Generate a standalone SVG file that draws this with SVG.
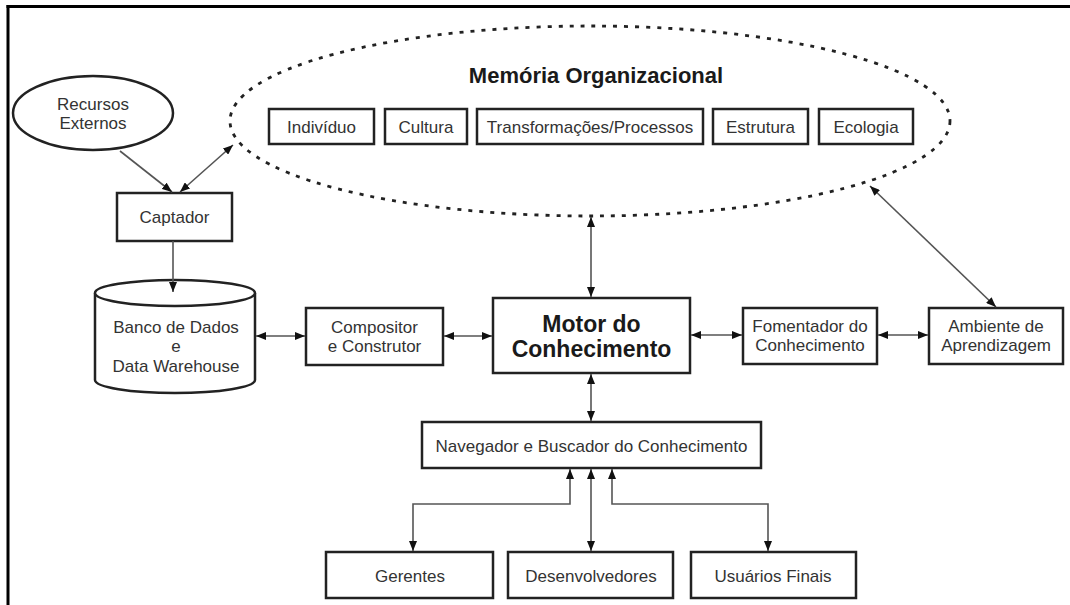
<svg xmlns="http://www.w3.org/2000/svg" width="1070" height="605" viewBox="0 0 1070 605">
<style>
  .box { fill: #fff; stroke: #222; stroke-width: 2.5; }
  .t { font-family: "Liberation Sans", Arial, sans-serif; font-size: 17px; fill: #333; text-anchor: middle; }
  .tb { font-family: "Liberation Sans", Arial, sans-serif; font-weight: bold; fill: #1a1a1a; text-anchor: middle; }
  .c { fill: none; stroke: #555; stroke-width: 1.6; marker-end: url(#ah); }
  .bi { marker-start: url(#ah); }
</style>
<defs>
  <marker id="ah" viewBox="0 0 10 8" refX="10" refY="4" markerWidth="10" markerHeight="8" markerUnits="userSpaceOnUse" orient="auto-start-reverse">
    <path d="M0,0 L10,4 L0,8 z" fill="#111"/>
  </marker>
</defs>
<rect width="1070" height="605" fill="#fff"/>
<g id="frame" stroke="#000" stroke-width="3" fill="none">
  <line x1="6.5" y1="6.5" x2="1070" y2="6.5"/>
  <line x1="8" y1="5" x2="8" y2="605"/>
</g>

<g id="memoria">
  <ellipse cx="590" cy="121" rx="360" ry="95" fill="none" stroke="#222" stroke-width="2.8" stroke-dasharray="4 7"/>
  <text class="tb" x="596" y="83" font-size="22">Memória Organizacional</text>
</g>
<g id="individuo"><rect class="box" x="269" y="109" width="105" height="35"/><text class="t" x="321.5" y="133">Indivíduo</text></g>
<g id="cultura"><rect class="box" x="385" y="109" width="82" height="35"/><text class="t" x="426" y="133">Cultura</text></g>
<g id="transformacoes"><rect class="box" x="477" y="109" width="226" height="35"/><text class="t" x="590" y="133">Transformações/Processos</text></g>
<g id="estrutura"><rect class="box" x="713" y="109" width="95" height="35"/><text class="t" x="760.5" y="133">Estrutura</text></g>
<g id="ecologia"><rect class="box" x="819" y="109" width="94" height="35"/><text class="t" x="866" y="133">Ecologia</text></g>

<g id="recursos">
  <ellipse cx="93" cy="113" rx="80" ry="37" fill="#fff" stroke="#222" stroke-width="2.5"/>
  <text class="t" x="93" y="110">Recursos</text>
  <text class="t" x="93" y="129">Externos</text>
</g>
<g id="captador"><rect class="box" x="117" y="193" width="115" height="48"/><text class="t" x="174.5" y="223">Captador</text></g>
<g id="banco">
  <path d="M95,293 L95,380 A80,13 0 0 0 255,380 L255,293" fill="#fff" stroke="#222" stroke-width="2.5"/>
  <ellipse cx="175" cy="293" rx="80" ry="13" fill="#fff" stroke="#222" stroke-width="2.5"/>
  <text class="t" x="176" y="333">Banco de Dados</text>
  <text class="t" x="176" y="352">e</text>
  <text class="t" x="176" y="372">Data Warehouse</text>
</g>
<g id="compositor"><rect class="box" x="306" y="308" width="137" height="57"/>
  <text class="t" x="374.5" y="333">Compositor</text><text class="t" x="374.5" y="352">e Construtor</text></g>
<g id="motor"><rect class="box" x="493" y="298" width="197" height="75"/>
  <text class="tb" x="591.5" y="332" font-size="23">Motor do</text><text class="tb" x="591.5" y="357" font-size="23">Conhecimento</text></g>
<g id="fomentador"><rect class="box" x="743" y="308" width="134" height="56"/>
  <text class="t" x="810" y="332">Fomentador do</text><text class="t" x="810" y="351">Conhecimento</text></g>
<g id="ambiente"><rect class="box" x="929" y="308" width="134" height="56"/>
  <text class="t" x="996" y="332">Ambiente de</text><text class="t" x="996" y="351">Aprendizagem</text></g>
<g id="navegador"><rect class="box" x="422" y="422" width="339" height="46"/>
  <text class="t" x="591.5" y="452">Navegador e Buscador do Conhecimento</text></g>
<g id="gerentes"><rect class="box" x="326" y="552" width="167" height="46"/><text class="t" x="410" y="582">Gerentes</text></g>
<g id="desenvolvedores"><rect class="box" x="508" y="552" width="165" height="46"/><text class="t" x="591" y="582">Desenvolvedores</text></g>
<g id="usuarios"><rect class="box" x="691" y="552" width="165" height="46"/><text class="t" x="773" y="582">Usuários Finais</text></g>

<g id="connectors">
  <line class="c" x1="120" y1="151" x2="172" y2="192"/>
  <line class="c bi" x1="180" y1="192" x2="233" y2="145"/>
  <line class="c" x1="173" y1="241" x2="173" y2="292"/>
  <line class="c bi" x1="256" y1="336" x2="305" y2="336"/>
  <line class="c bi" x1="444" y1="336" x2="492" y2="336"/>
  <line class="c bi" x1="591" y1="217" x2="591" y2="297"/>
  <line class="c bi" x1="691" y1="335" x2="742" y2="335"/>
  <line class="c bi" x1="878" y1="335" x2="928" y2="335"/>
  <line class="c bi" x1="870" y1="186" x2="996" y2="307"/>
  <line class="c bi" x1="591" y1="374" x2="591" y2="421"/>
  <polyline class="c bi" points="570,469 570,504 413,504 413,551"/>
  <line class="c bi" x1="591" y1="469" x2="591" y2="551"/>
  <polyline class="c bi" points="612,469 612,504 768,504 768,551"/>
</g>
</svg>
